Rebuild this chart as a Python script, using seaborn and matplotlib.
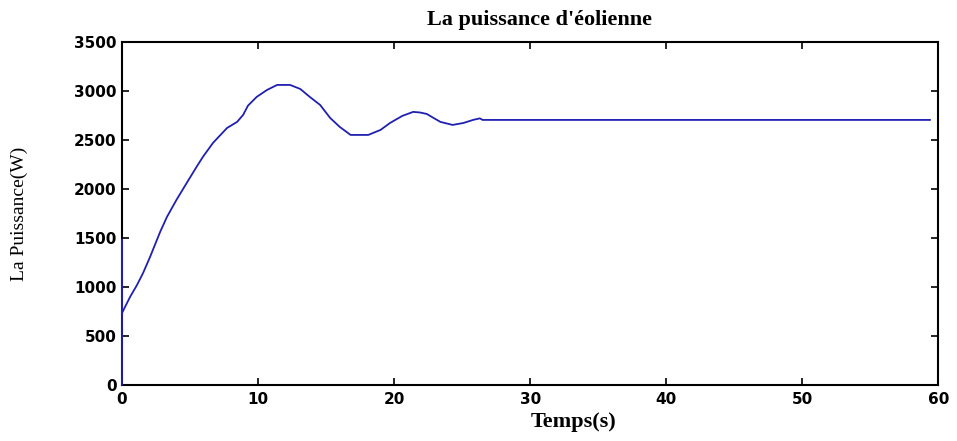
import matplotlib
matplotlib.use("Agg")
import matplotlib.pyplot as plt
import seaborn as sns
import pandas as pd

# Wind turbine output power over time
temps = [0, 0, 0, 0.59, 1.1, 1.55, 2.06, 2.8, 3.3, 4.0, 4.8, 5.5, 5.96, 6.69,
         7.72, 8.46, 8.9, 9.26, 9.9, 10.66, 11.4, 12.35, 13.1, 13.8, 14.56,
         15.3, 16.0, 16.8, 18.1, 19.0, 19.7, 20.6, 21.4, 21.9, 22.4, 22.9,
         23.4, 24.3, 25.1, 25.8, 26.3, 26.5, 59.4]
puissance = [0, 1480, 735, 898, 1020, 1143, 1306, 1561, 1714, 1888, 2071, 2230,
             2330, 2470, 2622, 2684, 2755, 2850, 2939, 3010, 3061, 3061, 3020,
             2939, 2857, 2724, 2633, 2551, 2551, 2602, 2673, 2745, 2786, 2780,
             2765, 2724, 2684, 2653, 2673, 2704, 2720, 2704, 2704]

x_ticks = [0, 10, 20, 30, 40, 50, 60]
y_ticks = [0, 500, 1000, 1500, 2000, 2500, 3000, 3500]

df = pd.DataFrame({"Temps": temps, "Puissance": puissance})

sns.set_theme(style="white")
plt.rcParams["text.color"] = "black"
plt.rcParams["axes.labelcolor"] = "black"
plt.rcParams["axes.titlecolor"] = "black"

fig = plt.figure(figsize=(9.57, 4.41), dpi=100)
ax = fig.add_axes([0.1275, 0.127, 0.853, 0.778])

sns.lineplot(data=df, x="Temps", y="Puissance", sort=False, estimator=None,
             color="#2020b0", linewidth=1.3, ax=ax)
for ln in ax.lines:
    ln.set_zorder(3)
    ln.set_clip_on(False)

ax.set_xlim(0, 60)
ax.set_ylim(0, 3500)
ax.set_xticks(x_ticks)
ax.set_yticks(y_ticks)
tick_font = dict(fontfamily="DejaVu Sans", fontweight="bold", fontsize=11)
ax.set_xticklabels([str(v) for v in x_ticks], **tick_font)
ax.set_yticklabels([str(v) for v in y_ticks], **tick_font)
ax.tick_params(direction="in", length=5, width=1.2, top=True, right=True,
               bottom=True, left=True, colors="black")
ax.tick_params(axis="y", pad=4)
ax.tick_params(axis="x", pad=5)
for s in ax.spines.values():
    s.set_visible(True)
    s.set_color("black")
    s.set_linewidth(1.5)

ax.set_title("La puissance d'éolienne", fontfamily="Liberation Serif",
             fontweight="bold", fontsize=16, x=0.512, pad=12, color="black")
ax.set_xlabel("Temps(s)", fontfamily="Liberation Serif", fontweight="bold",
              fontsize=16, color="black")
ax.xaxis.set_label_coords(0.553, -0.08)
ax.set_ylabel("La Puissance(W)", fontfamily="Liberation Serif", fontsize=14,
              color="black")
ax.yaxis.set_label_coords(-0.115, 0.5)

fig.savefig("out.png", dpi=100)
